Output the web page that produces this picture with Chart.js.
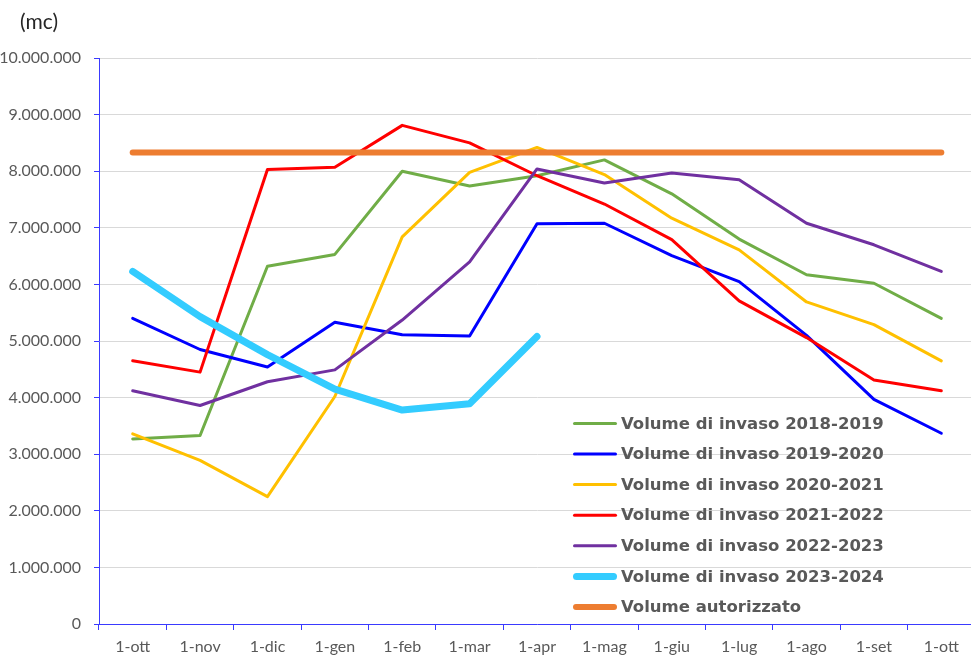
<!DOCTYPE html>
<html lang="it">
<head>
<meta charset="utf-8">
<title>Volume di invaso</title>
<script src="https://cdn.jsdelivr.net/npm/chart.js@4.4.1/dist/chart.umd.min.js"></script>
<style>
    html, body { margin: 0; padding: 0; background: #fff; overflow: hidden; }
    .wrap { position: relative; width: 976px; height: 658px; }
    .unita { position: absolute; left: 20px; top: 8px; font: 21px Lato, sans-serif; color: #262626; }
</style>
</head>
<body>
<div class="wrap">
    <div class="unita">(mc)</div>
    <canvas id="chartInvaso" width="976" height="658"></canvas>
</div>
<script>
const mesi = ['1-ott', '1-nov', '1-dic', '1-gen', '1-feb', '1-mar', '1-apr', '1-mag', '1-giu', '1-lug', '1-ago', '1-set', '1-ott'];

const invaso2018 = [3270000, 3330000, 6320000, 6530000, 8000000, 7740000, 7920000, 8200000, 7600000, 6800000, 6170000, 6020000, 5400000];
const invaso2019 = [5400000, 4850000, 4540000, 5330000, 5110000, 5090000, 7070000, 7080000, 6510000, 6050000, 5100000, 3970000, 3370000];
const invaso2020 = [3360000, 2890000, 2250000, 4020000, 6840000, 7980000, 8420000, 7940000, 7170000, 6610000, 5690000, 5290000, 4650000];
const invaso2021 = [4650000, 4450000, 8030000, 8070000, 8810000, 8500000, 7920000, 7420000, 6790000, 5710000, 5060000, 4310000, 4120000];
const invaso2022 = [4120000, 3860000, 4280000, 4490000, 5370000, 6400000, 8040000, 7790000, 7970000, 7850000, 7080000, 6700000, 6230000];
const invaso2023 = [6230000, 5430000, 4760000, 4150000, 3780000, 3890000, 5080000, null, null, null, null, null, null];
const autorizzato = [8330000, 8330000, 8330000, 8330000, 8330000, 8330000, 8330000, 8330000, 8330000, 8330000, 8330000, 8330000, 8330000];

const yTicks = [0, 1000000, 2000000, 3000000, 4000000, 5000000, 6000000, 7000000, 8000000, 9000000, 10000000];

const blu = '#3a3aff';

function formatIt(v) {
    return String(v).replace(/\B(?=(\d{3})+(?!\d))/g, '.');
}

function serie(label, data, color, width, order) {
    return {
        label: label,
        data: data,
        borderColor: color,
        backgroundColor: color,
        borderWidth: width,
        pointRadius: 0,
        pointHoverRadius: 0,
        tension: 0,
        borderCapStyle: 'round',
        borderJoinStyle: 'round',
        spanGaps: false,
        order: order
    };
}

// legenda dentro l'area del grafico, in basso a destra
const legendaInterna = {
    id: 'legendaInterna',
    afterDatasetsDraw(chart) {
        const ctx = chart.ctx;
        const area = chart.chartArea;
        const x0 = area.left + 474;
        const step = 30.6;
        const sets = chart.data.datasets;
        const yLast = area.bottom - 17;
        ctx.save();
        ctx.font = 'bold 16.5px "DejaVu Sans", sans-serif';
        ctx.textBaseline = 'middle';
        ctx.fillStyle = '#595959';
        sets.forEach((ds, i) => {
            const y = yLast - (sets.length - 1 - i) * step;
            ctx.beginPath();
            ctx.strokeStyle = ds.borderColor;
            ctx.lineWidth = ds.borderWidth;
            ctx.lineCap = 'round';
            ctx.moveTo(x0 + ds.borderWidth / 2, y);
            ctx.lineTo(x0 + 44 - ds.borderWidth / 2, y);
            ctx.stroke();
            ctx.fillText(ds.label, x0 + 48, y + 1);
        });
        ctx.restore();
    }
};

const canvas = document.getElementById('chartInvaso');

const chartInvaso = new Chart(canvas.getContext('2d'), {
    type: 'line',
    data: {
        labels: mesi,
        datasets: [
            serie('Volume di invaso 2018-2019', invaso2018, '#70ad47', 3, 7),
            serie('Volume di invaso 2019-2020', invaso2019, '#0000ff', 3, 6),
            serie('Volume di invaso 2020-2021', invaso2020, '#ffc000', 3, 5),
            serie('Volume di invaso 2021-2022', invaso2021, '#ff0000', 3, 4),
            serie('Volume di invaso 2022-2023', invaso2022, '#7030a0', 3, 3),
            serie('Volume di invaso 2023-2024', invaso2023, '#33ccff', 7, 2),
            serie('Volume autorizzato', autorizzato, '#ed7d31', 6, 1)
        ]
    },
    options: {
        responsive: false,
        animation: false,
        layout: {
            padding: { top: 58, right: 1, left: 0, bottom: 0 }
        },
        plugins: {
            legend: { display: false },
            tooltip: { enabled: false }
        },
        scales: {
            x: {
                offset: true,
                grid: {
                    offset: true,
                    drawOnChartArea: false,
                    color: blu,
                    tickColor: blu,
                    tickLength: 6
                },
                border: { color: blu, width: 1 },
                ticks: {
                    color: '#595959',
                    font: { family: 'Lato', size: 16 },
                    padding: 7,
                    maxRotation: 0
                },
                afterFit: function (scale) {
                    scale.height = 34;
                }
            },
            y: {
                min: 0,
                max: 10000000,
                afterBuildTicks: function (scale) {
                    scale.ticks = yTicks.map(v => ({ value: v }));
                },
                grid: {
                    color: '#d9d9d9',
                    lineWidth: 1,
                    tickColor: blu,
                    tickLength: 5
                },
                border: { color: blu, width: 1 },
                ticks: {
                    color: '#595959',
                    font: { family: 'Lato', size: 16 },
                    padding: 13,
                    callback: function (value) {
                        return formatIt(value);
                    }
                },
                afterFit: function (scale) {
                    scale.width = 99;
                }
            }
        }
    },
    plugins: [legendaInterna]
});
</script>
</body>
</html>
